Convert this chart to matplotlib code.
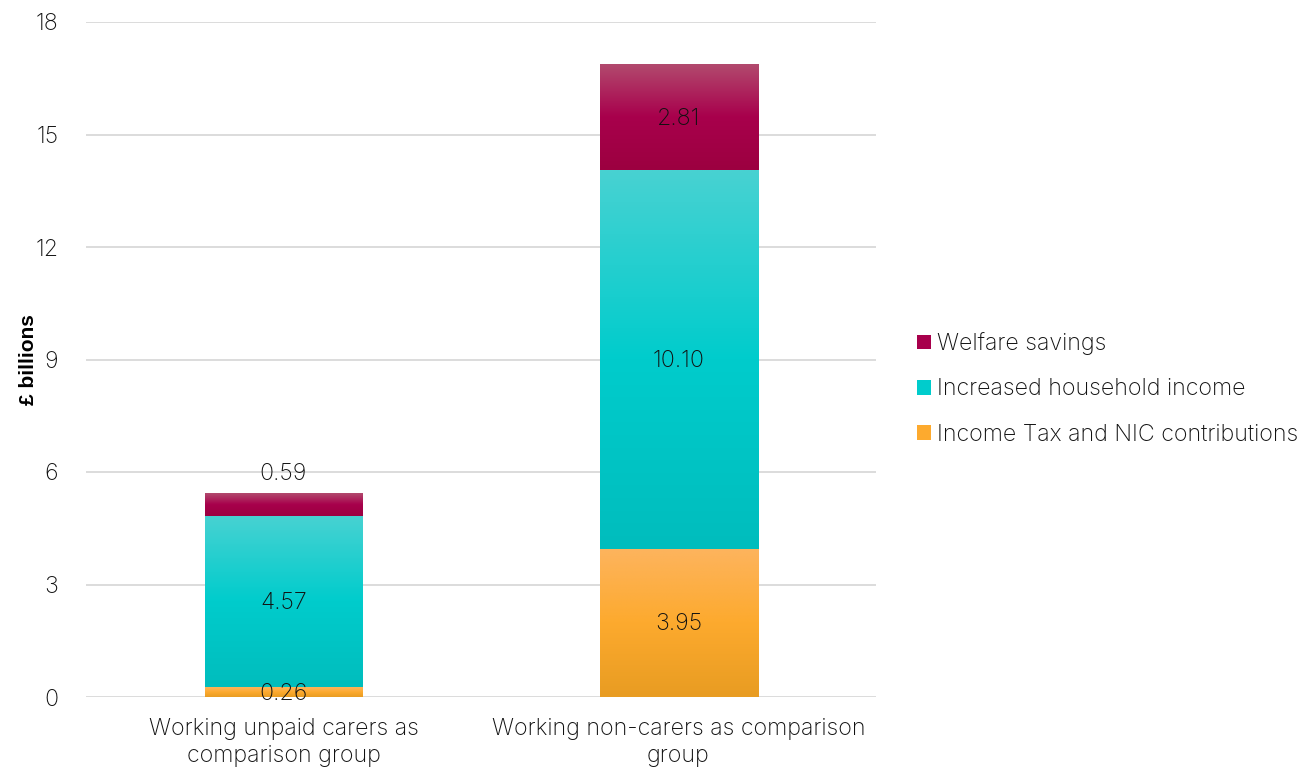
import matplotlib
matplotlib.use("Agg")
import matplotlib.pyplot as plt
from matplotlib.colors import LinearSegmentedColormap
import numpy as np

categories = ["Working unpaid carers as\ncomparison group",
              "Working non-carers as comparison\ngroup"]
series_names = ["Income Tax and NIC contributions",
                "Increased household income",
                "Welfare savings"]
income_tax = [0.26, 3.95]
household_income = [4.57, 10.10]
welfare = [0.59, 2.81]
label_texts = [["0.26", "3.95"], ["4.57", "10.10"], ["0.59", "2.81"]]
yticks = [0, 3, 6, 9, 12, 15, 18]

# gradient stops: (bottom/dark, main, top/light)
grad_colors = [
    ("#E89C22", "#FDAA2E", "#FDB45E"),
    ("#00BDBD", "#00CCCC", "#48D2D2"),
    ("#9C0040", "#A8004C", "#B24A6E"),
]
legend_colors = ["#FDAA2E", "#00CCCC", "#A8004C"]

plt.rcParams['font.family'] = ['Inter', 'DejaVu Sans']
plt.rcParams['font.weight'] = 'light'
FS = 16.7
TXT = '#111111'
fig = plt.figure(figsize=(13.14, 7.67), dpi=100)
ax = fig.add_axes([86/1314, 1-697/767, (876-86)/1314, (697-22)/767])

x = np.arange(len(categories))
width = 0.4
series = [income_tax, household_income, welfare]
bottoms = np.zeros(len(categories))
containers = []
for vals, name, lc in zip(series, series_names, legend_colors):
    c = ax.bar(x, vals, width, bottom=bottoms, color=lc, label=name, zorder=2)
    containers.append(c)
    bottoms = bottoms + np.array(vals)

grad = np.linspace(0, 1, 256).reshape(-1, 1)
for c, cols in zip(containers, grad_colors):
    cmap = LinearSegmentedColormap.from_list("g", list(cols))
    for p in c.patches:
        x0, y0, w, h = p.get_x(), p.get_y(), p.get_width(), p.get_height()
        ax.imshow(grad, cmap=cmap, origin='lower', aspect='auto',
                  extent=(x0, x0 + w, y0, y0 + h), zorder=2.5,
                  interpolation='bilinear')

# labels
for si, (c, texts) in enumerate(zip(containers, label_texts)):
    for i, p in enumerate(c.patches):
        cx = p.get_x() + p.get_width() / 2
        cy = p.get_y() + p.get_height() / 2 - 0.04
        if si == 2 and i == 0:
            cy = p.get_y() + p.get_height() + 0.52
        ax.text(cx, cy, texts[i], ha='center', va='center', fontsize=FS,
                color=TXT, zorder=5)

ax.set_xlim(-0.5, 1.5)
ax.set_ylim(0, 18)
ax.set_yticks(yticks)
ax.set_yticklabels([str(t) for t in yticks])
ax.set_xticks(x)
ax.set_xticklabels(categories, fontsize=FS, color=TXT, linespacing=1.3)
ax.tick_params(axis='y', length=0, pad=20, labelsize=FS, labelcolor=TXT)
ax.tick_params(axis='x', length=0, pad=15)
ax.grid(axis='y', color='#D9D9D9', linewidth=1.3, zorder=0)
ax.set_axisbelow(True)
for s in ax.spines.values():
    s.set_visible(False)

ax.set_ylabel("£ billions", fontsize=15, fontweight='bold',
              family=['Liberation Sans Narrow', 'Liberation Sans', 'DejaVu Sans'],
              labelpad=-2)

handles, labels = ax.get_legend_handles_labels()
leg = ax.legend(handles[::-1], labels[::-1], loc='center left',
                bbox_to_anchor=(905/1314, 1-389/767), bbox_transform=fig.transFigure,
                frameon=False, fontsize=FS, handlelength=0.6, handleheight=0.6,
                handletextpad=0.3, labelspacing=1.0, borderpad=0)
for t in leg.get_texts():
    t.set_color(TXT)

fig.savefig("out.png", dpi=100)
